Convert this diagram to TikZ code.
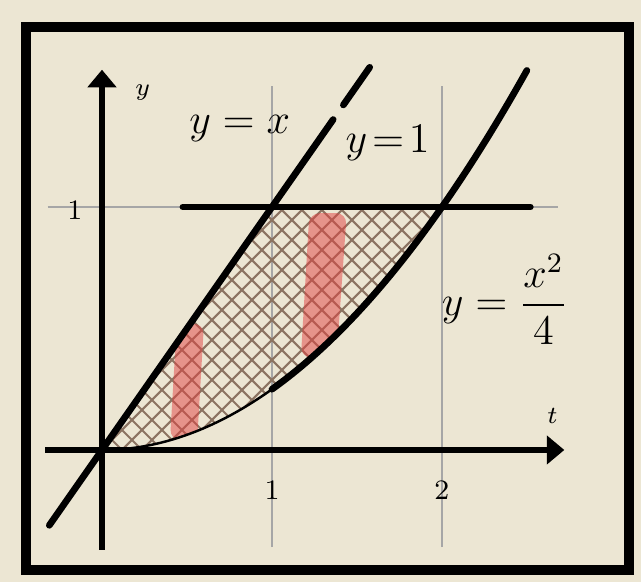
\documentclass[tikz,border=0pt]{standalone}
\usepackage{amsmath}
\usetikzlibrary{arrows.meta}
\definecolor{paper}{RGB}{236,230,211}
\definecolor{hatchbrown}{RGB}{140,116,98}
\definecolor{pencil}{RGB}{226,66,66}
\tikzset{
  curve/.style={line width=1.9pt, line cap=round},
  axis/.style={line width=1.5pt},
  guide/.style={black!35, line width=0.4pt},
  hatchline/.style={hatchbrown, line width=0.6pt},
  strip/.style={pencil, opacity=0.5, rounded corners=3pt},
  lbl/.style={font=\large},
  tick/.style={font=\footnotesize},
}

\begin{document}
\begin{tikzpicture}[x=1.7cm, y=2.43cm, >={Triangle[width=8pt,length=5pt]}]
    \useasboundingbox[fill=paper] (-0.6,-0.543) rectangle (3.171,1.852);

    % Guide lines
    \draw[guide] (1,-0.40) -- (1,1.50);
    \draw[guide] (2,-0.40) -- (2,1.50);
    \draw[guide] (-0.32,1) -- (2.68,1);

    % Hatched region with pencil strips
    \begin{scope}
      \clip (0,0) -- (1,1) -- (2,1) -- plot[domain=2:0, samples=40] (\x,{\x*\x/4}) -- cycle;
      \foreach \k in {-15,...,30} {
        \draw[hatchline] (\k*0.2cm-3cm,-3cm) -- ++(6cm,6cm);
        \draw[hatchline] (\k*0.2cm-3cm,3cm) -- ++(6cm,-6cm);
      }
      \fill[strip] (0.40,0.04) -- (0.56,0.04) -- (0.60,0.52) -- (0.44,0.52) -- cycle;
      \fill[strip] (1.17,0.38) -- (1.38,0.38) -- (1.44,0.975) -- (1.22,0.975) -- cycle;
    \end{scope}

    % Curves
    \coordinate (a) at (-0.31,-0.31);
    \coordinate (b) at (1.36,1.36);
    \coordinate (c) at (1.42,1.42);
    \coordinate (d) at (1.575,1.575);
    \coordinate (e) at (0.476,1);
    \coordinate (f) at (2.52,1);
    \draw[curve] (a) -- (b);
    \draw[curve] (c) -- (d);
    \draw[curve] (e) -- (f);
    \draw[line width=0.7pt] plot[domain=0:1, samples=30] (\x,{\x*\x/4});
    \draw[curve] plot[domain=1:2.5, samples=40] (\x,{\x*\x/4});

    % Axes
    \coordinate (xs) at (-0.335,0);
    \coordinate (xe) at (2.72,0);
    \coordinate (ys) at (0,-0.41);
    \coordinate (ye) at (0,1.565);
    \draw[axis,->] (xs) -- (xe);
    \draw[axis,->] (ys) -- (ye);

    % Labels
    \node[font=\scriptsize] (ylab) at (0.24,1.47) {$y$};
    \node[font=\scriptsize] (tlab) at (2.65,0.14) {$t$};
    \node[tick] (one) at (1,-0.165) {1};
    \node[tick] (two) at (2,-0.165) {2};
    \node[tick] (yone) at (-0.16,0.985) {1};
    \node[lbl] (lx) at (0.81,1.325) {$y=x$};
    \node[font=\normalsize] (l1) at (1.68,1.263) {\large$y\!=\!1$};
    \node[lbl] (lp) at (2.37,0.62) {$y=\dfrac{x^2}{4}$};

    % Frame
    \draw[line width=2.9pt] (-0.447,-0.494) rectangle (3.10,1.741);
\end{tikzpicture}
\end{document}
